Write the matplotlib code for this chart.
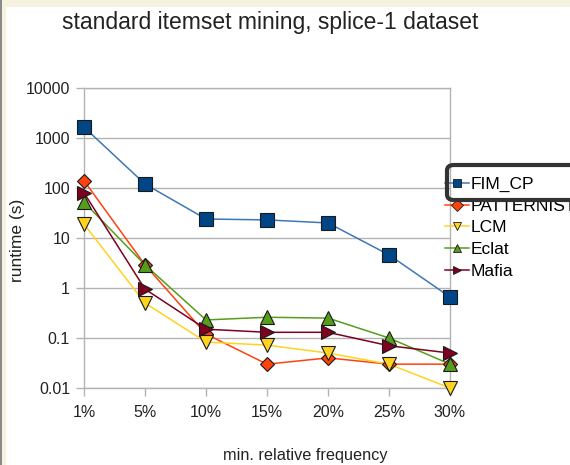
import matplotlib
matplotlib.use("Agg")
import matplotlib.pyplot as plt
from matplotlib.patches import FancyBboxPatch, Rectangle
from matplotlib.lines import Line2D

plt.rcParams['font.family'] = ['Liberation Sans', 'DejaVu Sans']

categories = ["1%", "5%", "10%", "15%", "20%", "25%", "30%"]
fim_cp = [1650, 120, 24, 23, 20, 4.6, 0.66]
patternist = [140, 2.9, 0.12, 0.03, 0.04, 0.03, 0.03]
lcm = [19, 0.5, 0.083, 0.072, 0.05, 0.03, 0.01]
eclat = [52, 2.9, 0.23, 0.26, 0.25, 0.1, 0.03]
mafia = [80, 0.95, 0.15, 0.13, 0.13, 0.07, 0.05]
y_ticks = [0.01, 0.1, 1, 10, 100, 1000, 10000]
y_tick_labels = ["0.01", "0.1", "1", "10", "100", "1000", "10000"]

series = [
    ("FIM_CP", fim_cp, "#004586", "#3f77b5", "s", 10),
    ("PATTERNIST", patternist, "#ff420e", "#ff420e", "D", 7.5),
    ("LCM", lcm, "#ffd320", "#ffd320", "v", 10),
    ("Eclat", eclat, "#579d1c", "#579d1c", "^", 10),
    ("Mafia", mafia, "#7e0021", "#7e0021", ">", 10),
]

W, H = 570, 465
fig = plt.figure(figsize=(W / 100, H / 100), dpi=100)
fig.patch.set_facecolor("white")

# frame decorations
fig.add_artist(Rectangle((0, 1 - 7 / H), 1, 7 / H, transform=fig.transFigure,
                         facecolor="#f5f3df", edgecolor="none", zorder=0))
fig.add_artist(Rectangle((0, 0), 6 / W, 1, transform=fig.transFigure,
                         facecolor="#f5f3df", edgecolor="none", zorder=0))
fig.add_artist(Rectangle((0, 0), 2 / W, 1, transform=fig.transFigure,
                         facecolor="#8a8a8a", edgecolor="none", zorder=0))

x0, x1 = 84, 450
ytop, ybot = 88, 388
ax = fig.add_axes([x0 / W, 1 - ybot / H, (x1 - x0) / W, (ybot - ytop) / H])
ax.set_facecolor("white")

xs = list(range(len(categories)))
handles = []
for name, vals, mcol, lcol, mk, ms in series:
    ax.plot(xs, vals, color=lcol, lw=1.1, zorder=3)
    ax.plot(xs, vals, ls="none", marker=mk, ms=ms, markerfacecolor=mcol,
            markeredgecolor="#1a1a1a", markeredgewidth=0.8, zorder=4, clip_on=False)
    handles.append(Line2D([0], [0], color=lcol, lw=1.1, marker=mk, ms=6,
                          markerfacecolor=mcol, markeredgecolor="#1a1a1a",
                          markeredgewidth=0.6))

ax.set_yscale("log")
ax.set_ylim(0.01, 10000)
ax.set_xlim(0, len(categories) - 1)
ax.set_yticks(y_ticks)
ax.set_yticklabels(y_tick_labels)
ax.minorticks_off()
ax.set_xticks(xs)
ax.set_xticklabels(categories)
ax.grid(axis="y", color="#b3b3b3", lw=1)
ax.set_axisbelow(True)
for s in ax.spines.values():
    s.set_color("#b3b3b3")
    s.set_linewidth(1)
ax.tick_params(axis="both", colors="#b3b3b3", labelcolor="#222222",
               labelsize=11.5, length=6, width=1)
ax.tick_params(axis="x", pad=6)
ax.tick_params(axis="y", pad=4)

fig.text(270 / W, 1 - 22 / H, "standard itemset mining, splice-1 dataset",
         ha="center", va="center", fontsize=16.5, color="#222222")
fig.text(305 / W, 1 - 455 / H, "min. relative frequency",
         ha="center", va="center", fontsize=11.7, color="#222222")
fig.text(18 / W, 1 - 240 / H, "runtime (s)", rotation=90,
         ha="center", va="center", fontsize=12.5, color="#222222")

leg = fig.legend(handles=handles, labels=[s[0] for s in series],
                 loc="upper left", bbox_to_anchor=(445 / W, 1 - 177 / H),
                 frameon=False, fontsize=12.5, handlelength=1.4,
                 handletextpad=0.1, labelspacing=0.37, borderpad=0,
                 borderaxespad=0)

fig.add_artist(FancyBboxPatch((447 / W, 1 - 200 / H), 140 / W, 35 / H,
                              boxstyle="round,pad=0,rounding_size=0.012",
                              transform=fig.transFigure, facecolor="none",
                              edgecolor="#333333", lw=3, zorder=10))

fig.savefig("out.png", dpi=100)
